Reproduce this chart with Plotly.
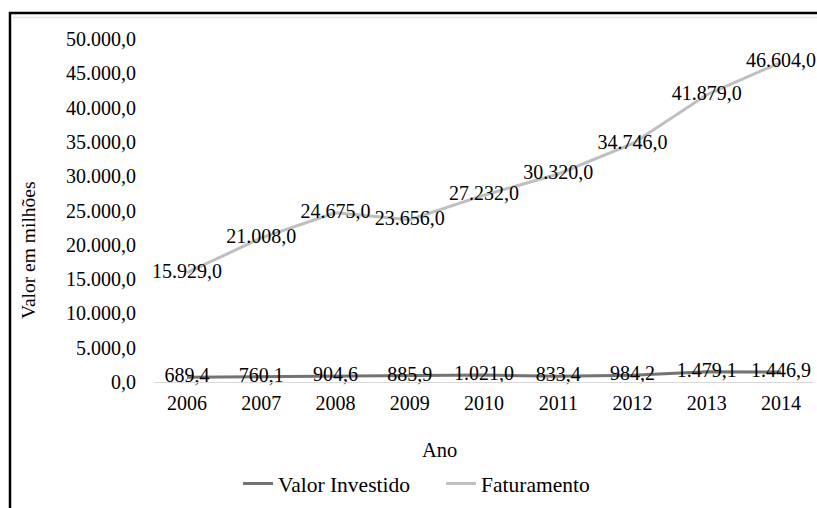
import plotly.graph_objects as go

anos = ["2006", "2007", "2008", "2009", "2010", "2011", "2012", "2013", "2014"]
valor_investido = [689.4, 760.1, 904.6, 885.9, 1021.0, 833.4, 984.2, 1479.1, 1446.9]
faturamento = [15929.0, 21008.0, 24675.0, 23656.0, 27232.0, 30320.0, 34746.0, 41879.0, 46604.0]

W, H = 817, 508
L, R, T, B = 154, 814, 39, 382
FONT = "Liberation Serif"

def px_x(p):
    return (p - L) / (R - L)

def px_y(p):
    return (B - p) / (B - T)

fig = go.Figure()
fig.add_trace(go.Scatter(
    x=anos, y=valor_investido, name="Valor Investido",
    mode="lines+text", line=dict(color="#737373", width=3),
    text=valor_investido, texttemplate="%{y:,.1f}", textposition="middle center",
    textfont=dict(family=FONT, size=20, color="#000000"), cliponaxis=False,
))
fig.add_trace(go.Scatter(
    x=anos, y=faturamento, name="Faturamento",
    mode="lines+text", line=dict(color="#bfbfbf", width=3),
    text=faturamento, texttemplate="%{y:,.1f}", textposition="middle center",
    textfont=dict(family=FONT, size=20, color="#000000"), cliponaxis=False,
))

fig.update_layout(
    width=W, height=H,
    margin=dict(l=L, r=W - R, t=T, b=H - B, autoexpand=False),
    paper_bgcolor="white", plot_bgcolor="white",
    separators=",.",
    font=dict(family=FONT, size=20, color="#000000"),
    showlegend=True,
    legend=dict(orientation="h", x=px_x(238), xanchor="left", y=px_y(463), yanchor="top",
                font=dict(family=FONT, size=21.5, color="#000000"),
                entrywidth=158, entrywidthmode="pixels",
                tracegroupgap=0, bgcolor="rgba(0,0,0,0)"),
    xaxis=dict(type="category", showgrid=False, showline=True, linecolor="#d9d9d9", linewidth=1,
               ticks="", tickfont=dict(family=FONT, size=20, color="#000000"), zeroline=False,
               ticklabelstandoff=3),
    yaxis=dict(range=[0, 50000], dtick=5000, tickformat=",.1f", showgrid=False, showline=False,
               zeroline=False, ticks="", tickfont=dict(family=FONT, size=20, color="#000000"),
               ticklabelstandoff=17),
    shapes=[
        dict(type="line", xref="paper", yref="paper", x0=px_x(9), x1=px_x(817), y0=px_y(13), y1=px_y(13),
             line=dict(color="#000000", width=2.5)),
        dict(type="line", xref="paper", yref="paper", x0=px_x(10), x1=px_x(10), y0=px_y(12), y1=px_y(508),
             line=dict(color="#000000", width=2.5)),
        dict(type="line", xref="paper", yref="paper", x0=px_x(11), x1=px_x(817), y0=px_y(17.5), y1=px_y(17.5),
             line=dict(color="#e6e6e6", width=1.5)),
    ],
    annotations=[
        dict(text="Ano", xref="paper", yref="paper", x=px_x(439), y=px_y(450), showarrow=False,
             xanchor="center", yanchor="middle", font=dict(family=FONT, size=20.5, color="#000000")),
        dict(text="Valor em milhões", xref="paper", yref="paper", x=px_x(28), y=px_y(250), showarrow=False,
             textangle=-90, xanchor="center", yanchor="middle", font=dict(family=FONT, size=19.5, color="#000000")),
    ],
)

fig.write_html("out.html", config={"displayModeBar": False},
               post_script="document.body.style.margin='0';document.body.style.padding='0';")
